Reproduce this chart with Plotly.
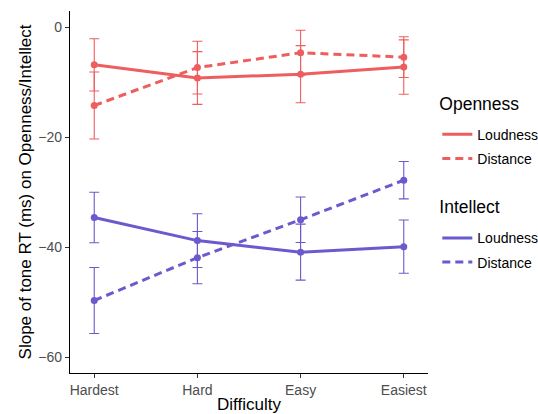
import plotly.graph_objects as go

difficulty = ["Hardest", "Hard", "Easy", "Easiest"]

open_loud = [-6.8, -9.2, -8.5, -7.2]
open_loud_err = [4.75, 4.8, 5.2, 4.95]
open_dist = [-14.2, -7.3, -4.6, -5.4]
open_dist_err = [6.1, 4.8, 4.1, 3.7]

int_loud = [-34.6, -38.8, -40.9, -39.9]
int_loud_err = [4.6, 4.9, 5.1, 4.85]
int_dist = [-49.7, -41.9, -35.0, -27.8]
int_dist_err = [6.0, 4.75, 4.15, 3.4]

y_ticks = [0, -20, -40, -60]

RED = "#EE5E5E"
PURPLE = "#6A5ACD"
FONT = "Liberation Sans"

series = [
    ("legend", "Openness", "Loudness", open_loud, open_loud_err, RED, "solid"),
    ("legend", "Openness", "Distance", open_dist, open_dist_err, RED, "8px,5px"),
    ("legend2", "Intellect", "Loudness", int_loud, int_loud_err, PURPLE, "solid"),
    ("legend2", "Intellect", "Distance", int_dist, int_dist_err, PURPLE, "8px,5px"),
]

fig = go.Figure()
for leg, grp, name, vals, errs, col, dash in series:
    fig.add_trace(go.Scatter(
        x=difficulty, y=vals, mode="markers", showlegend=False,
        marker=dict(color=col, size=7),
        error_y=dict(type="data", array=errs, color=col, thickness=1.1, width=5),
    ))
    fig.add_trace(go.Scatter(
        x=difficulty, y=vals, mode="lines", name=name,
        line=dict(color=col, width=3, dash=dash),
        legend=leg, legendgroup=grp + name,
    ))

legend_common = dict(
    x=1.026, xanchor="left", yanchor="top",
    font=dict(size=14, color="black", family=FONT),
    tracegroupgap=3, bgcolor="rgba(0,0,0,0)",
    itemwidth=30,
)


def legend_title(text):
    return dict(
        text=" <br><span style='font-size:17.5px'>" + text + "</span><br> ",
        font=dict(size=6.9, color="black", family=FONT),
    )


fig.update_layout(
    width=538, height=414,
    margin=dict(l=70, r=110, t=11, b=41, autoexpand=False),
    paper_bgcolor="white", plot_bgcolor="white",
    font=dict(family=FONT, size=14, color="black"),
    legend=dict(legend_common, y=0.777, title=legend_title("Openness")),
    legend2=dict(legend_common, y=0.4907, title=legend_title("Intellect")),
    xaxis=dict(
        type="category", range=[-0.235, 3.235],
        showline=True, linecolor="black", linewidth=1.2,
        ticks="outside", ticklen=4, tickcolor="#333333", tickwidth=1.1,
        tickfont=dict(size=14, color="#4D4D4D", family=FONT),
        showgrid=False, zeroline=False,
        title=dict(text="Difficulty", font=dict(size=17, color="black", family=FONT), standoff=3),
        automargin=False,
    ),
    yaxis=dict(
        range=[-62.9, 3.0], tickvals=y_ticks,
        showline=True, linecolor="black", linewidth=1.2,
        ticks="outside", ticklen=4, tickcolor="#333333", tickwidth=1.1,
        tickfont=dict(size=14, color="#4D4D4D", family=FONT),
        showgrid=False, zeroline=False,
        title=dict(text="Slope of tone RT (ms) on Openness/Intellect",
                   font=dict(size=17, color="black", family=FONT), standoff=2),
        automargin=False,
    ),
)

fig.write_html("out.html", config={"displayModeBar": False},
               post_script="document.body.style.margin='0';document.body.style.overflow='hidden';")
